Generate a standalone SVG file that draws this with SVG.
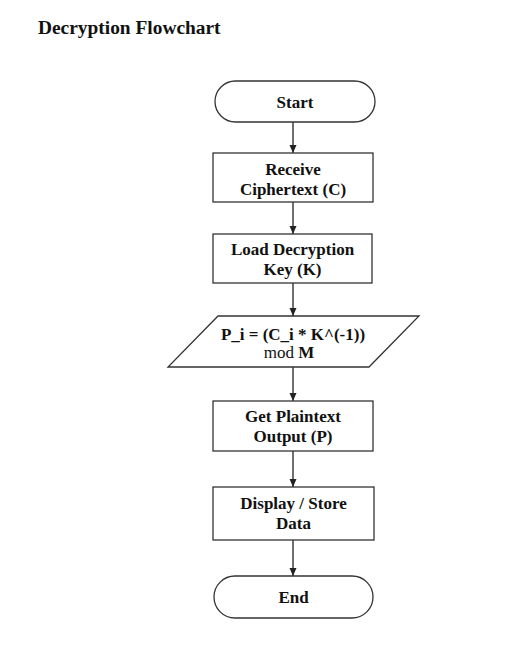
<svg xmlns="http://www.w3.org/2000/svg" width="510" height="654" viewBox="0 0 510 654">
<style>
.shape{fill:#ffffff;stroke:#333333;stroke-width:1.3}
.lbl{font-family:"Liberation Serif","Times New Roman",serif;font-size:17px;font-weight:bold;fill:#111111;text-anchor:middle}
.reg{font-weight:normal}
.title{font-family:"Liberation Serif","Times New Roman",serif;font-size:19.4px;font-weight:bold;fill:#111111}
.conn{stroke:#222222;stroke-width:1.3;fill:none}
</style>
<defs>
<marker id="arr" markerWidth="10" markerHeight="10" refX="9" refY="5" orient="auto" markerUnits="userSpaceOnUse">
<path d="M1,1.5 L9,5 L1,8.5 Z" fill="#222222"/>
</marker>
</defs>
<rect width="510" height="654" fill="#ffffff"/>
<text class="title" x="38" y="34">Decryption Flowchart</text>
<g id="connectors">
<line class="conn" x1="293" y1="122" x2="293" y2="153" marker-end="url(#arr)"/>
<line class="conn" x1="293" y1="202" x2="293" y2="234" marker-end="url(#arr)"/>
<line class="conn" x1="293" y1="283" x2="293" y2="316" marker-end="url(#arr)"/>
<line class="conn" x1="293" y1="367" x2="293" y2="401" marker-end="url(#arr)"/>
<line class="conn" x1="293" y1="451" x2="293" y2="487" marker-end="url(#arr)"/>
<line class="conn" x1="293" y1="540" x2="293" y2="576" marker-end="url(#arr)"/>
</g>
<g id="start">
<rect class="shape" x="215" y="81" width="160" height="41" rx="20.5" ry="20.5"/>
<text class="lbl" x="295" y="108">Start</text>
</g>
<g id="receive">
<rect class="shape" x="213" y="153" width="160" height="49"/>
<text class="lbl" x="293" y="175">Receive</text>
<text class="lbl" x="293" y="195">Ciphertext (C)</text>
</g>
<g id="loadkey">
<rect class="shape" x="213" y="234" width="159" height="49"/>
<text class="lbl" x="292.5" y="255">Load Decryption</text>
<text class="lbl" x="292.5" y="275">Key (K)</text>
</g>
<g id="compute">
<polygon class="shape" points="218,316 419,316 369,367 168,367"/>
<text class="lbl" x="293" y="340">P_i = (C_i * K^(-1))</text>
<text class="lbl" x="289" y="357.5"><tspan class="reg">mod </tspan>M</text>
</g>
<g id="plaintext">
<rect class="shape" x="213" y="401" width="160" height="50"/>
<text class="lbl" x="293" y="422">Get Plaintext</text>
<text class="lbl" x="293" y="442">Output (P)</text>
</g>
<g id="display">
<rect class="shape" x="213" y="487" width="161" height="53"/>
<text class="lbl" x="293.5" y="509">Display / Store</text>
<text class="lbl" x="293.5" y="529">Data</text>
</g>
<g id="end">
<rect class="shape" x="214" y="576" width="159" height="42" rx="21" ry="21"/>
<text class="lbl" x="293.5" y="603">End</text>
</g>
</svg>
